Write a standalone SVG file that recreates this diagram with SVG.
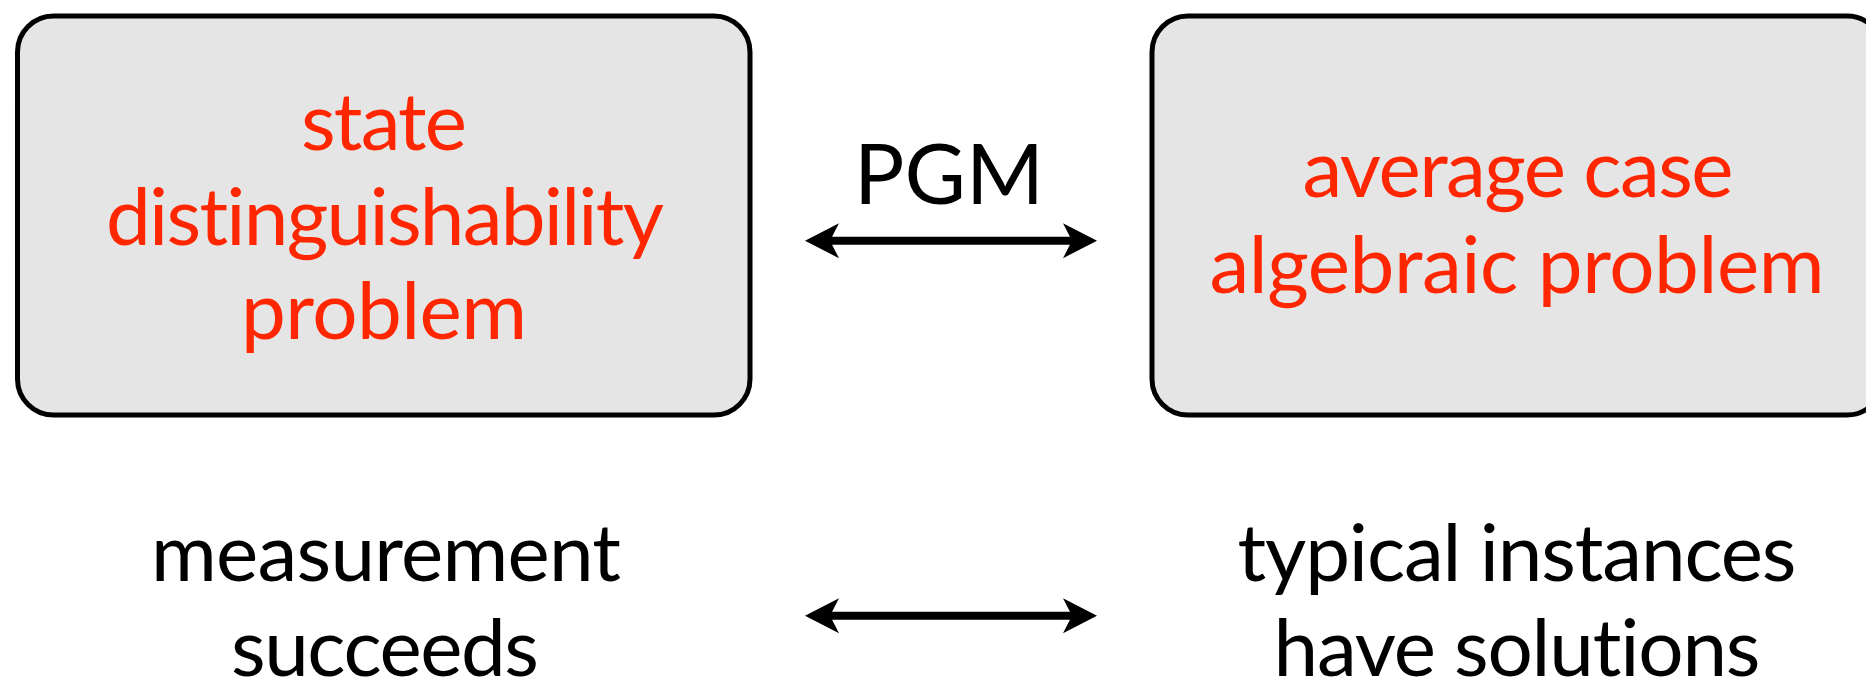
<svg xmlns="http://www.w3.org/2000/svg" width="1866" height="682" viewBox="0 0 1866 682">
  <style>
    .box { fill: #e5e5e5; stroke: #000; stroke-width: 5; }
    .txt { font-family: "Lato", "Open Sans", "Liberation Sans", sans-serif; font-size: 80px; text-anchor: middle; font-variant-ligatures: none; font-feature-settings: "liga" 0; }
    .red { fill: #ff2600; }
    .blk { fill: #000; }
    .big { font-size: 84px; }
    .link { stroke: #000; stroke-width: 8; fill: none; }
  </style>
  <defs>
    <!-- notched arrowhead, drawn pointing right -->
    <path id="head" d="M0,0 L-34,-17.5 L-25,0 L-34,17.5 Z" fill="#000"/>
  </defs>

  <rect width="1866" height="682" fill="#fff"/>

  <g id="node-state">
    <rect class="box" x="17.5" y="16" width="732.5" height="399" rx="36" ry="36"/>
    <text class="txt red" x="384" y="150" textLength="166">state</text>
    <text class="txt red" x="385" y="245" textLength="558">distinguishability</text>
    <text class="txt red" x="384" y="339" textLength="286">problem</text>
  </g>

  <g id="node-algebraic">
    <rect class="box" x="1152" y="16" width="731" height="399" rx="36" ry="36"/>
    <text class="txt red" x="1518" y="197" textLength="431">average case</text>
    <text class="txt red" x="1517" y="293" textLength="615">algebraic problem</text>
  </g>

  <g id="label-pgm">
    <text class="txt blk big" x="949" y="204" textLength="190">PGM</text>
  </g>

  <g id="label-measurement">
    <text class="txt blk" x="386" y="581" textLength="470">measurement</text>
    <text class="txt blk" x="385" y="676" textLength="308">succeeds</text>
  </g>

  <g id="label-instances">
    <text class="txt blk" x="1517" y="581" textLength="559">typical instances</text>
    <text class="txt blk" x="1517" y="676" textLength="487">have solutions</text>
  </g>

  <g id="connectors">
    <line class="link" x1="828" y1="240.7" x2="1074" y2="240.7"/>
    <use href="#head" transform="translate(1097,240.7)"/>
    <use href="#head" transform="translate(805,240.7) rotate(180)"/>
    <line class="link" x1="828" y1="615.7" x2="1074" y2="615.7"/>
    <use href="#head" transform="translate(1097,615.7)"/>
    <use href="#head" transform="translate(805,615.7) rotate(180)"/>
  </g>
</svg>
